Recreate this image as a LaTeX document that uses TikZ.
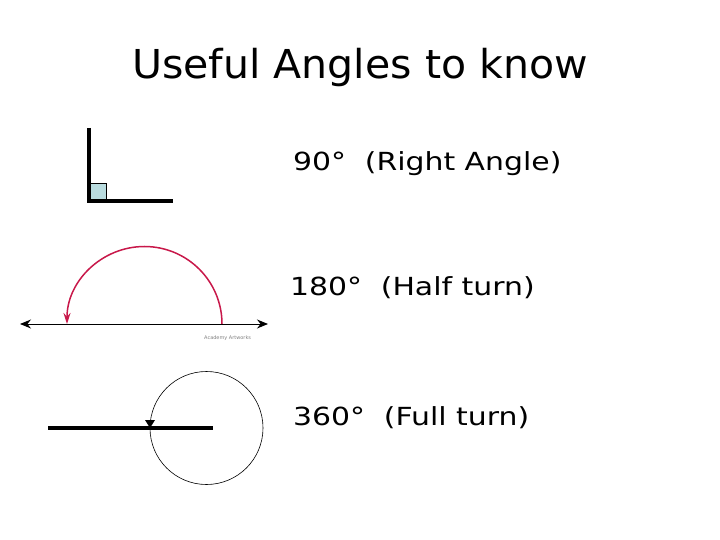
\documentclass[tikz,border=0pt]{standalone}
\usepackage{fontspec}
\setmainfont{DejaVu Sans}
\newfontfamily\lblfont[FakeStretch=1.2]{DejaVu Sans}
\newfontfamily\titlefont[FakeStretch=1.03]{DejaVu Sans}
\usetikzlibrary{arrows.meta}
\definecolor{sqblue}{HTML}{B9DCDF}
\definecolor{arcred}{HTML}{C8184A}
\tikzset{
  lbl/.style={anchor=west,inner sep=0pt,font=\lblfont\fontsize{25}{30}\selectfont},
  thick line/.style={line width=3.5bp,black},
}
\begin{document}
\begin{tikzpicture}[x=1bp,y=-1bp]
\useasboundingbox (0,0) rectangle (720,540);
% title
\node[inner sep=0pt,font=\titlefont\fontsize{40}{46}\selectfont] (title) at (360,68) {Useful Angles to know};
% right angle
\coordinate (ra) at (89,201);
\coordinate (rtop) at (89,128);
\coordinate (rright) at (173,201);
\node[draw=black,fill=sqblue,line width=0.8bp,minimum size=17bp,inner sep=0pt,anchor=south west] (sq) at (ra) {};
\draw[thick line] (rtop) -- (ra) -- (rright);
\node[lbl] (l90) at (293,164) {90°\hspace{0.75em}(Right Angle)};
% half turn
\coordinate (axl) at (20,324);
\coordinate (axr) at (268,324);
\draw[line width=1bp,{Stealth[length=11bp,width=9bp]}-{Stealth[length=11bp,width=9bp]}] (axl) -- (axr);
\coordinate (arcstart) at (222,324);
\draw[arcred,line width=1.5bp,-{Stealth[length=11bp,width=7bp]}] (arcstart) arc[start angle=0,end angle=-180,radius=77.5];
\node[inner sep=0pt,text=gray,font=\fontsize{5}{6}\selectfont,anchor=west] (credit) at (204,338) {Academy Artworks};
\node[lbl] (l180) at (290,288) {180°\hspace{0.75em}(Half turn)};
% full turn
\node[draw=black,circle,line width=0.6bp,minimum size=113bp,inner sep=0pt] (circ) at (206.5,428) {};
\coordinate (ll) at (48,428);
\coordinate (lr) at (213,428);
\draw[thick line] (ll) -- (lr);
\fill (145,420) -- (155,420) -- (150,428) -- cycle;
\node[lbl] (l360) at (293,418) {360°\hspace{0.75em}(Full turn)};
\end{tikzpicture}
\end{document}
